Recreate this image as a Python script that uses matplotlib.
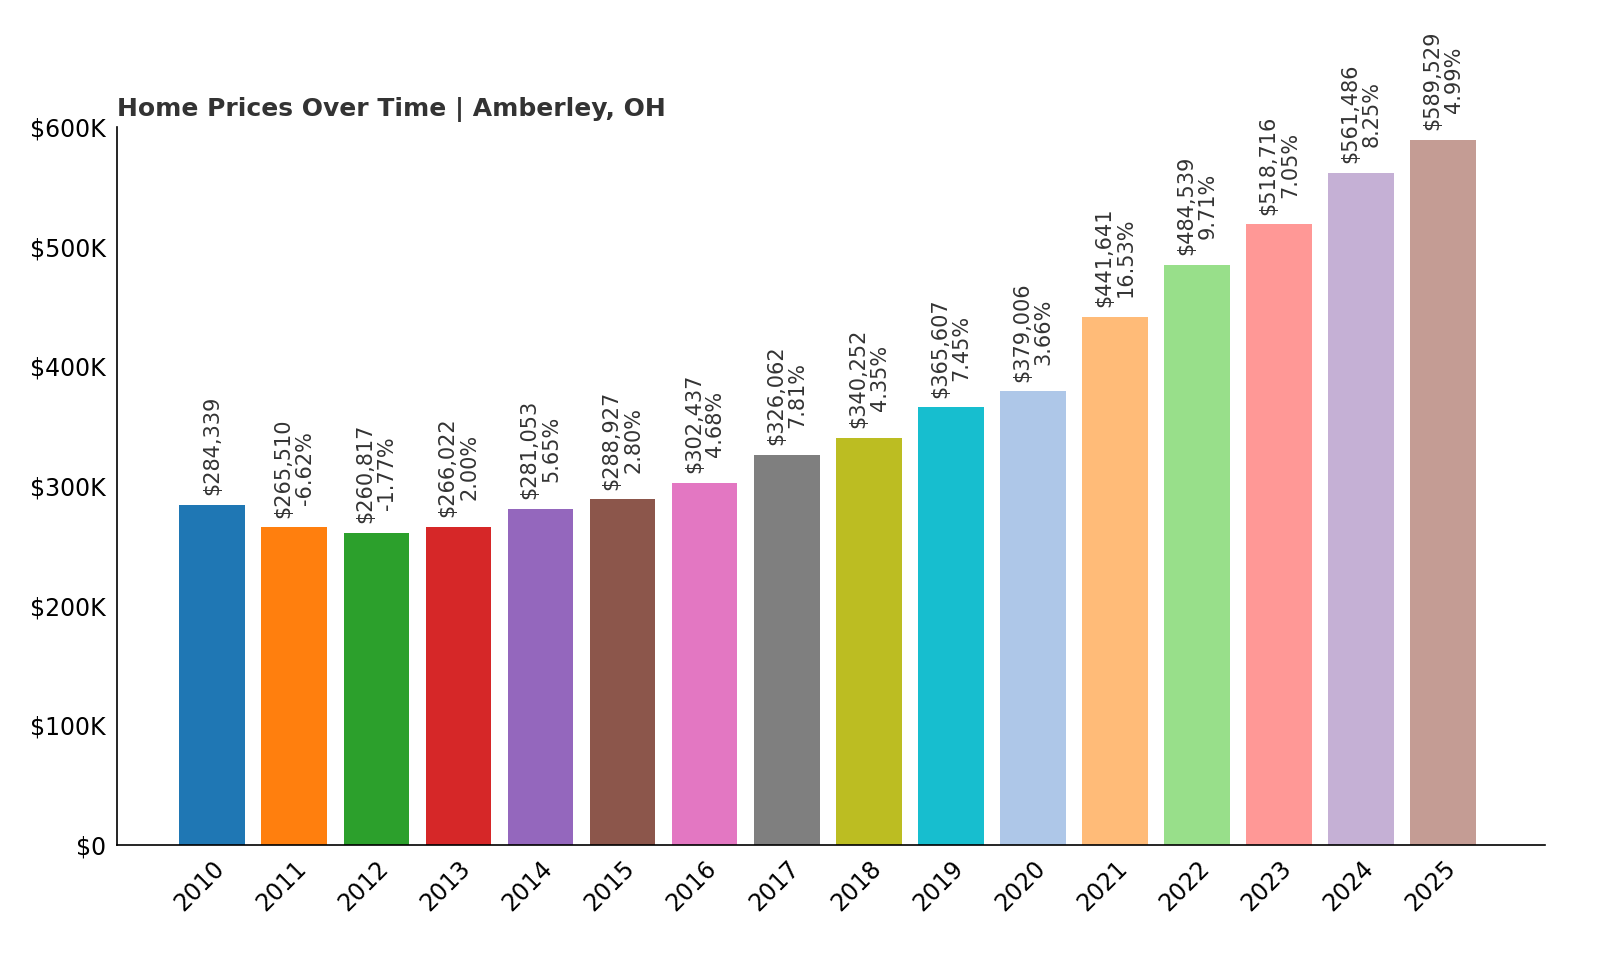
import matplotlib
matplotlib.use("Agg")
import matplotlib.pyplot as plt

years = [str(y) for y in range(2010, 2026)]
values = [284339, 265510, 260817, 266022, 281053, 288927, 302437, 326062,
          340252, 365607, 379006, 441641, 484539, 518716, 561486, 589529]
changes = [None, "-6.62%", "-1.77%", "2.00%", "5.65%", "2.80%", "4.68%", "7.81%",
           "4.35%", "7.45%", "3.66%", "16.53%", "9.71%", "7.05%", "8.25%", "4.99%"]
colors = ["#1f77b4", "#ff7f0e", "#2ca02c", "#d62728", "#9467bd", "#8c564b", "#e377c2",
          "#7f7f7f", "#bcbd22", "#17becf", "#aec7e8", "#ffbb78", "#98df8a", "#ff9896",
          "#c5b0d5", "#c49c94"]

fig = plt.figure(figsize=(16, 9.6), dpi=100)
ax = fig.add_axes([117/1600, 1-845/960, (1545-117)/1600, (845-127)/960])
x = list(range(len(years)))
ax.bar(x, values, width=0.8, color=colors)
for i, v in enumerate(values):
    txt = f"${v:,}" if changes[i] is None else f"${v:,}\n{changes[i]}"
    ax.annotate(txt, (i, v), xytext=(0, 7), textcoords="offset points",
                rotation=90, ha="center", va="bottom", fontsize=15,
                color="#333333", linespacing=1.1)
ax.set_ylim(0, 600000)
ax.set_xlim(-1.16, 16.24)
ax.set_xticks(x)
ax.set_xticklabels(years, rotation=45, ha="right", rotation_mode="anchor", fontsize=17)
ax.set_yticks(range(0, 600001, 100000))
ax.set_yticklabels(["$0"] + [f"${k}K" for k in range(100, 601, 100)], fontsize=17)
ax.tick_params(length=0, pad=8)
for s in ["top", "right"]:
    ax.spines[s].set_visible(False)
ax.spines["left"].set_linewidth(1.2)
ax.spines["bottom"].set_linewidth(1.2)
ax.set_title("Home Prices Over Time | Amberley, OH", loc="left", fontsize=18,
             fontweight="bold", color="#333333", pad=8)
fig.savefig("out.png")
